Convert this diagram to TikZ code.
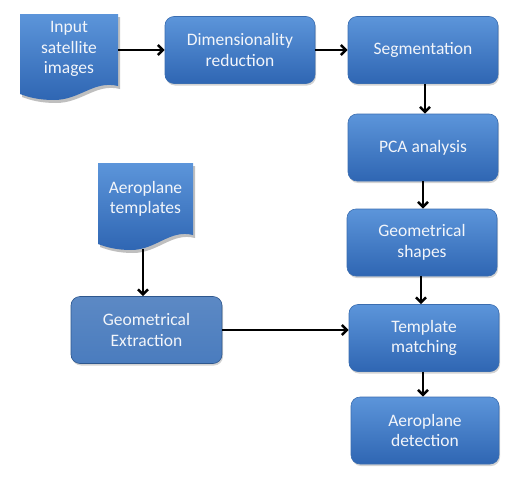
\documentclass[tikz,border=0pt]{standalone}
\usepackage{fontspec}
\setmainfont{Carlito}
\usetikzlibrary{arrows.meta,shadows}
\definecolor{bluetop}{HTML}{5C95DA}
\definecolor{bluebot}{HTML}{2F66B3}
\definecolor{flatblue}{HTML}{4A7CBE}
\definecolor{edgeblue}{HTML}{3A6DB0}
\definecolor{txt}{HTML}{F2F5FA}
\tikzset{
  proc/.style={rounded corners=9pt, top color=bluetop, bottom color=bluebot, draw=edgeblue, line width=0.6pt,
    minimum width=150pt, minimum height=67pt, text=txt, align=center, font=\fontsize{17.5}{20.5}\selectfont,
    drop shadow={shadow xshift=1pt, shadow yshift=-2pt, opacity=0.35}},
  flatproc/.style={proc, top color=flatblue!90!white, bottom color=flatblue, draw=edgeblue!80!black},
  doc/.style={top color=bluetop, bottom color=bluebot, draw=none},
  lbl/.style={text=txt, align=center, font=\fontsize{17.5}{20.5}\selectfont},
  conn/.style={-{Straight Barb[length=5pt,width=10pt]}, line width=2.6pt, black}
}
\begin{document}
\begin{tikzpicture}[x=1pt,y=-1pt]
\useasboundingbox (0,0) rectangle (522,479);
% document shapes
\fill[black,opacity=0.25] (22,17) -- (120,17) -- (120,89) .. controls (96,83) and (82,103) .. (56,103) .. controls (40,103) and (30,100) .. (22,97) -- cycle;
\shade[doc] (20,14) -- (118,14) -- (118,86) .. controls (94,80) and (80,100) .. (54,100) .. controls (38,100) and (28,97) .. (20,94) -- cycle;
\node[lbl] (inp) at (69,49) {Input\\satellite\\images};
\fill[black,opacity=0.25] (100,166) -- (195,166) -- (195,238) .. controls (172,232) and (158,253) .. (133,253) .. controls (118,253) and (108,250) .. (100,247) -- cycle;
\shade[doc] (98,163) -- (193,163) -- (193,235) .. controls (170,229) and (156,250) .. (131,250) .. controls (116,250) and (106,247) .. (98,244) -- cycle;
\node[lbl] (tpl) at (145.5,199) {Aeroplane\\templates};
\coordinate (inpE) at (118,50);
\coordinate (tplS) at (143,249);
% process boxes
\node[proc] (dim) at (240,50) {Dimensionality\\reduction};
\node[proc] (seg) at (423,50) {Segmentation};
\node[proc] (pca) at (423,147.5) {PCA analysis};
\node[proc] (geo) at (422,242.5) {Geometrical\\shapes};
\node[proc] (tm) at (424,338) {Template\\matching};
\node[proc, minimum width=148pt] (det) at (425,430.5) {Aeroplane\\detection};
\node[flatproc, minimum width=151pt] (ext) at (146.5,330) {Geometrical\\Extraction};
% connectors
\draw[conn] (inpE) -- (dim.west);
\draw[conn] (dim.east) -- (seg.west);
\draw[conn] (seg.south -| 425,0) -- (pca.north -| 425,0);
\draw[conn] (pca.south) -- (pca.south |- geo.north);
\draw[conn] (geo.south -| 421,0) -- (tm.north -| 421,0);
\draw[conn] (tm.south -| 423,0) -- (det.north -| 423,0);
\draw[conn] (tplS) -- (ext.north -| tplS);
\draw[conn] (ext.east) -- (tm.west |- ext.east);
\end{tikzpicture}
\end{document}
